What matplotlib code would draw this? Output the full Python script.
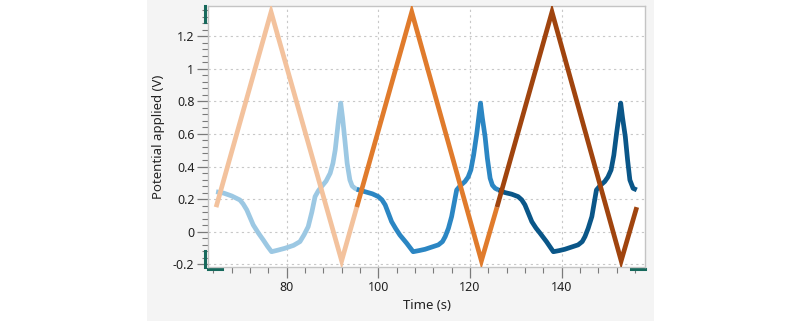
import matplotlib
matplotlib.use("Agg")
import matplotlib.pyplot as plt
from matplotlib.ticker import MultipleLocator, FuncFormatter
from matplotlib.patches import Rectangle
from matplotlib.lines import Line2D

# applied potential, one triangle per cycle
pot_t = [
    [64.6, 76.6, 92.0, 95.3],
    [95.3, 107.3, 122.5, 125.9],
    [125.9, 137.9, 153.0, 156.4],
]
pot_v = [
    [0.15, 1.35, -0.18, 0.15],
    [0.15, 1.35, -0.18, 0.15],
    [0.15, 1.35, -0.18, 0.15],
]

# response curves, one per cycle
resp_t = [
    [64.6, 66.3, 68.0, 69.8, 70.5, 71.3, 72.7, 73.8, 74.9, 75.8, 76.7, 78.0,
     79.6, 81.5, 82.9, 83.8, 84.7, 85.5, 86.2, 86.9, 87.6, 88.6, 89.5, 90.1,
     90.6, 91.3, 91.8, 92.2, 92.7, 93.2, 93.8, 94.3, 94.9, 95.6],
    [95.3, 97.1, 98.7, 100.0, 100.8, 101.5, 102.9, 103.8, 104.7, 106.2, 107.6,
     108.9, 110.2, 113.1, 114.0, 114.6, 115.3, 116.0, 117.1, 118.0, 118.9,
     119.6, 120.2, 120.8, 121.5, 122.3, 122.7, 123.3, 123.8, 124.4, 124.9,
     125.5, 126.2],
    [126.2, 127.6, 129.1, 130.5, 131.3, 132.0, 133.5, 134.4, 135.3, 136.7,
     138.2, 139.5, 140.7, 143.6, 144.5, 145.1, 145.8, 146.6, 147.6, 148.5,
     149.4, 150.1, 150.8, 151.4, 152.0, 152.9, 153.3, 153.9, 154.4, 154.9,
     155.6, 156.4],
]
resp_v = [
    [0.245, 0.236, 0.219, 0.194, 0.170, 0.133, 0.041, -0.008, -0.052, -0.090,
     -0.124, -0.115, -0.103, -0.085, -0.062, -0.020, 0.030, 0.120, 0.215,
     0.250, 0.276, 0.310, 0.359, 0.420, 0.502, 0.680, 0.790, 0.700, 0.563,
     0.420, 0.317, 0.280, 0.266, 0.256],
    [0.260, 0.245, 0.232, 0.215, 0.195, 0.164, 0.061, 0.018, -0.021, -0.072,
     -0.124, -0.117, -0.109, -0.082, -0.062, -0.031, 0.020, 0.092, 0.256,
     0.285, 0.307, 0.335, 0.379, 0.470, 0.605, 0.790, 0.700, 0.584, 0.450,
     0.328, 0.285, 0.266, 0.256],
    [0.256, 0.240, 0.230, 0.215, 0.195, 0.164, 0.061, 0.022, -0.010, -0.062,
     -0.124, -0.117, -0.109, -0.082, -0.062, -0.031, 0.020, 0.092, 0.256,
     0.285, 0.307, 0.335, 0.379, 0.470, 0.605, 0.790, 0.700, 0.584, 0.440,
     0.317, 0.266, 0.256],
]

pot_colors = ["#f3c29d", "#e07b2c", "#a0440e"]
resp_colors = ["#9cc8e3", "#2b86c3", "#0a5688"]

plt.rcParams['font.family'] = ['Noto Sans', 'DejaVu Sans']

fig = plt.figure(figsize=(8, 3.21), dpi=100)
fig.patch.set_facecolor("white")
# grey panel behind the chart
fig.patches.append(Rectangle((147 / 800, 0), (654 - 147) / 800, 1,
                             transform=fig.transFigure, facecolor="#f4f4f4",
                             edgecolor="none", zorder=-10))

ax = fig.add_axes([208.3 / 800, 1 - 267 / 321, (645 - 208.3) / 800, (267 - 6) / 321])
ax.set_facecolor("white")

for t, v, c in zip(resp_t, resp_v, resp_colors):
    ax.plot(t, v, color=c, lw=3.4, solid_joinstyle="round", solid_capstyle="butt", zorder=3)
for t, v, c in zip(pot_t, pot_v, pot_colors):
    ax.plot(t, v, color=c, lw=3.4, solid_joinstyle="miter", solid_capstyle="butt", zorder=4)

ax.set_xlim(62.9, 158.2)
ax.set_ylim(-0.218, 1.387)

ax.xaxis.set_major_locator(MultipleLocator(20))
ax.xaxis.set_minor_locator(MultipleLocator(4))
ax.yaxis.set_major_locator(MultipleLocator(0.2))
ax.yaxis.set_minor_locator(MultipleLocator(0.04))
ax.yaxis.set_major_formatter(FuncFormatter(lambda v, p: "%g" % round(v, 2)))

ax.tick_params(which="major", length=8, width=0.9, color="#7a7a7a",
               labelsize=9, labelcolor="#222222", pad=2)
ax.tick_params(which="minor", length=4, width=0.8, color="#7a7a7a")

ax.grid(True, which="major", color="#c8c8c8", linestyle=(0, (2, 3)), lw=0.8)
ax.set_axisbelow(True)

for s in ax.spines.values():
    s.set_color("#c4c4c4")
    s.set_linewidth(1.0)

ax.set_xlabel("Time (s)", fontsize=9.5, color="#222222", labelpad=4)
ax.set_ylabel("Potential applied (V)", fontsize=9.5, color="#222222", labelpad=6)

# range handles at the axis ends
teal = "#17695c"
tr = ax.transAxes
w_px = (645 - 208.3)
h_px = (267 - 6)
ax.add_line(Line2D([-3 / w_px, -3 / w_px], [1, 1 - 16 / h_px], color=teal, lw=2.2,
                   transform=tr, clip_on=False))
ax.add_line(Line2D([-3 / w_px, -3 / w_px], [0, 16 / h_px], color=teal, lw=2.2,
                   transform=tr, clip_on=False))
ax.add_line(Line2D([0, 14 / w_px], [-2 / h_px, -2 / h_px], color=teal, lw=2.2,
                   transform=tr, clip_on=False))
ax.add_line(Line2D([1 - 14 / w_px, 1], [-2 / h_px, -2 / h_px], color=teal, lw=2.2,
                   transform=tr, clip_on=False))

fig.savefig("out.png", dpi=100)
